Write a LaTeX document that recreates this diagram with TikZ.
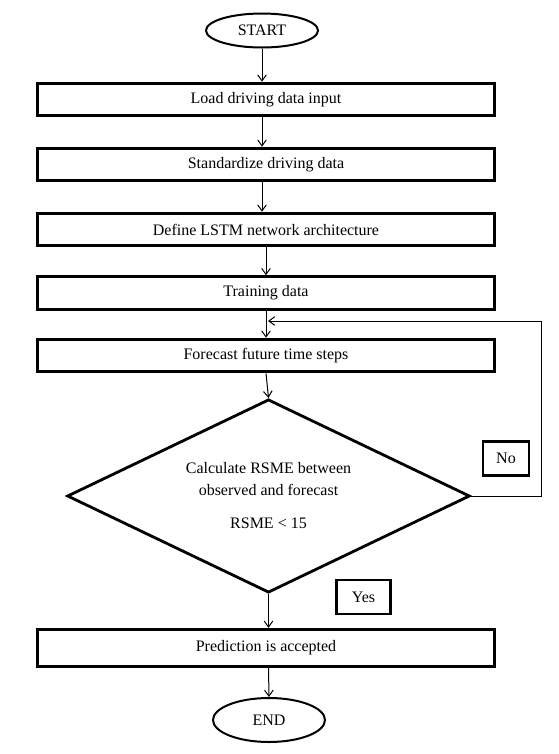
\documentclass[tikz,border=0pt]{standalone}
\usepackage{fontspec}
\setmainfont{Liberation Serif}
\usetikzlibrary{
    arrows.meta,
    positioning,
    shapes.geometric
}
\tikzset{
  stepbox/.style  = {draw, line width=2.2pt, minimum width=343pt,
                     minimum height=24.5pt, align=center, inner sep=0pt},
  term/.style     = {draw, ellipse, line width=1.5pt, minimum width=84pt,
                     inner sep=0pt},
  decide/.style   = {draw, diamond, aspect=2.08, line width=2.1pt, minimum width=302pt,
                     minimum height=145pt, align=center, inner sep=0pt,
                     font=\fontsize{12}{16.5}\selectfont},
  tag/.style      = {draw, line width=2.2pt, inner sep=0pt, align=center},
  arr/.style      = {-{Straight Barb[length=4.5pt,width=6.5pt]}, line width=0.75pt}
}

\begin{document}
\begin{tikzpicture}[x=0.75pt, y=-0.75pt, font=\fontsize{12}{14}\selectfont]
        \useasboundingbox (0,0) rectangle (558,754);
        % terminals and steps
        \node[term, minimum height=25.5pt] (start) at (262,30.5) {START};
        \node[stepbox] (load) at (266,99.5) {Load driving data input};
        \node[stepbox] (norm) at (266,164.5) {Standardize driving data};
        \node[stepbox] (arch) at (266,229.5) {Define LSTM network architecture};
        \node[stepbox] (train) at (266,293) {Training data};
        \node[stepbox] (fcst) at (266,355.5) {Forecast future time steps};
        \node[decide] (rsme) at (268.5,496) {Calculate RSME between\\observed and forecast\\[8.25pt]RSME < 15};
        \node[stepbox, minimum height=28pt] (done) at (266,648) {Prediction is accepted};
        \node[term, minimum height=33pt] (stop) at (269,720) {END};
        % branch labels
        \node[tag, minimum width=34.5pt, minimum height=26pt] (no) at (506,458.5) {No};
        \node[tag, minimum width=40pt, minimum height=25.5pt] (yes) at (363.5,597) {Yes};
        % connectors
        \draw[arr] (start) -- (start |- load.north);
        \draw[arr] (load.south -| start) -- (start |- norm.north);
        \draw[arr] (norm.south -| start) -- (start |- arch.north);
        \draw[arr] (arch.south) -- (train.north);
        \draw[arr] (train.south) -- (fcst.north);
        \draw[arr] (fcst.south) -- (rsme.north);
        \draw[arr] (rsme.south) -- (rsme.south |- done.north);
        \draw[arr] (rsme.south |- done.south) -- (stop.north);
        \coordinate (back) at (268,321);
        \draw[arr] (rsme.east) -- ++(70,0) |- (back);
      \end{tikzpicture}
\end{document}
